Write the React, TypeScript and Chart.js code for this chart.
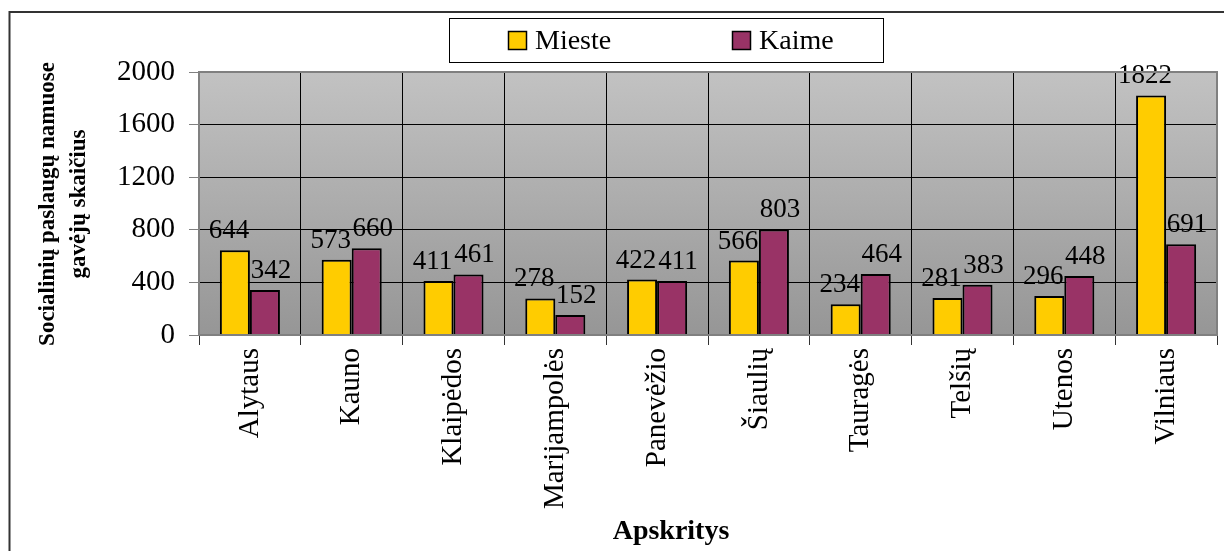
import React, { useEffect, useRef } from "react";
import { Chart, registerables } from "chart.js";

Chart.register(...registerables);

const categories = ["Alytaus", "Kauno", "Klaipėdos", "Marijampolės", "Panevėžio", "Šiaulių", "Tauragės", "Telšių", "Utenos", "Vilniaus"];
const miesteValues = [644, 573, 411, 278, 422, 566, 234, 281, 296, 1822];
const kaimeValues = [342, 660, 461, 152, 411, 803, 464, 383, 448, 691];
const seriesNames = ["Mieste", "Kaime"];
const yTitleLines = ["Socialinių paslaugų namuose", "gavėjų skaičius"];
const xTitle = "Apskritys";

const SERIF = "'Liberation Serif', 'Times New Roman', serif";
const COLORS = ["#FFCC00", "#993366"];

export default function App() {
  const ref = useRef<HTMLCanvasElement | null>(null);

  useEffect(() => {
    const canvas = ref.current;
    if (!canvas) return;

    const decor = {
      id: "decor",
      beforeDraw(chart: any) {
        const { ctx, chartArea } = chart;
        ctx.save();
        ctx.fillStyle = "#ffffff";
        ctx.fillRect(0, 0, chart.width, chart.height);
        const g = ctx.createLinearGradient(0, chartArea.top, 0, chartArea.bottom);
        g.addColorStop(0, "#C2C2C2");
        g.addColorStop(1, "#969696");
        ctx.fillStyle = g;
        ctx.fillRect(chartArea.left, chartArea.top, chartArea.right - chartArea.left, chartArea.bottom - chartArea.top);
        ctx.restore();
      },
      afterDatasetsDraw(chart: any) {
        const { ctx } = chart;
        ctx.save();
        ctx.fillStyle = "#000";
        ctx.font = `27px ${SERIF}`;
        ctx.textAlign = "center";
        ctx.textBaseline = "alphabetic";
        chart.data.datasets.forEach((ds: any, di: number) => {
          const meta = chart.getDatasetMeta(di);
          meta.data.forEach((bar: any, i: number) => {
            const dx = di === 0 ? -6 : 6;
            ctx.fillText(String(ds.data[i]), bar.x + dx, bar.y - 12);
          });
        });
        ctx.restore();
      },
      afterDraw(chart: any) {
        const { ctx, chartArea } = chart;
        ctx.save();
        // plot border
        ctx.strokeStyle = "#808080";
        ctx.lineWidth = 2;
        ctx.strokeRect(chartArea.left, chartArea.top, chartArea.right - chartArea.left, chartArea.bottom - chartArea.top);
        // outer frame
        ctx.strokeStyle = "#333";
        ctx.lineWidth = 2;
        ctx.strokeRect(9.5, 12, chart.width + 20, chart.height + 20);
        // legend
        ctx.strokeStyle = "#000";
        ctx.lineWidth = 1;
        ctx.fillStyle = "#fff";
        ctx.fillRect(449, 18, 434, 44);
        ctx.strokeRect(449.5, 18.5, 434, 44);
        const legendX = [508, 732];
        ctx.font = `28px ${SERIF}`;
        ctx.textAlign = "left";
        ctx.textBaseline = "alphabetic";
        seriesNames.forEach((name, i) => {
          ctx.fillStyle = COLORS[i];
          ctx.fillRect(legendX[i], 31, 18, 18);
          ctx.strokeStyle = "#000";
          ctx.lineWidth = 1.5;
          ctx.strokeRect(legendX[i] + 0.5, 31.5, 18, 18);
          ctx.fillStyle = "#000";
          ctx.fillText(name, legendX[i] + 27, 49);
        });
        // y title
        ctx.save();
        ctx.translate(0, 204);
        ctx.rotate(-Math.PI / 2);
        ctx.font = `bold 23px ${SERIF}`;
        ctx.textAlign = "center";
        ctx.textBaseline = "middle";
        ctx.fillStyle = "#000";
        ctx.fillText(yTitleLines[0], 0, 48);
        ctx.fillText(yTitleLines[1], 0, 79);
        ctx.restore();
        // x title
        ctx.font = `bold 28px ${SERIF}`;
        ctx.textAlign = "center";
        ctx.textBaseline = "alphabetic";
        ctx.fillStyle = "#000";
        ctx.fillText(xTitle, 671, 539);
        ctx.restore();
      },
    };

    const chart = new Chart(canvas, {
      type: "bar",
      data: {
        labels: categories,
        datasets: [
          { label: seriesNames[0], data: miesteValues, backgroundColor: COLORS[0], borderColor: "#000", borderWidth: 2, categoryPercentage: 0.59, barPercentage: 1 },
          { label: seriesNames[1], data: kaimeValues, backgroundColor: COLORS[1], borderColor: "#000", borderWidth: 2, categoryPercentage: 0.59, barPercentage: 1 },
        ],
      },
      options: {
        responsive: false,
        animation: false,
        devicePixelRatio: 1,
        layout: { padding: { left: 0, top: 72, right: 7, bottom: 0 } },
        plugins: { legend: { display: false }, tooltip: { enabled: false }, title: { display: false } },
        scales: {
          x: {
            grid: { color: "#000", lineWidth: 1, tickLength: 10, tickColor: "#333", offset: true },
            border: { color: "#808080", width: 2 },
            ticks: { color: "#000", font: { family: SERIF, size: 29 }, minRotation: 90, maxRotation: 90, padding: 3, autoSkip: false },
            afterFit: (scale: any) => { scale.height = 216; },
          },
          y: {
            min: 0,
            max: 2000,
            grid: { color: "#000", lineWidth: 1, tickLength: 10, tickColor: "#808080" },
            border: { color: "#808080", width: 2 },
            ticks: { stepSize: 400, color: "#000", font: { family: SERIF, size: 29 }, padding: 14, callback: (v: any) => String(v) },
            afterFit: (scale: any) => { scale.width = 199; },
          },
        },
      },
      plugins: [decor],
    });
    return () => chart.destroy();
  }, []);

  return (
    <div style={{ position: "fixed", left: 0, top: 0, width: 1224, height: 551, background: "#fff" }}>
      <canvas ref={ref} width={1224} height={551} />
    </div>
  );
}
